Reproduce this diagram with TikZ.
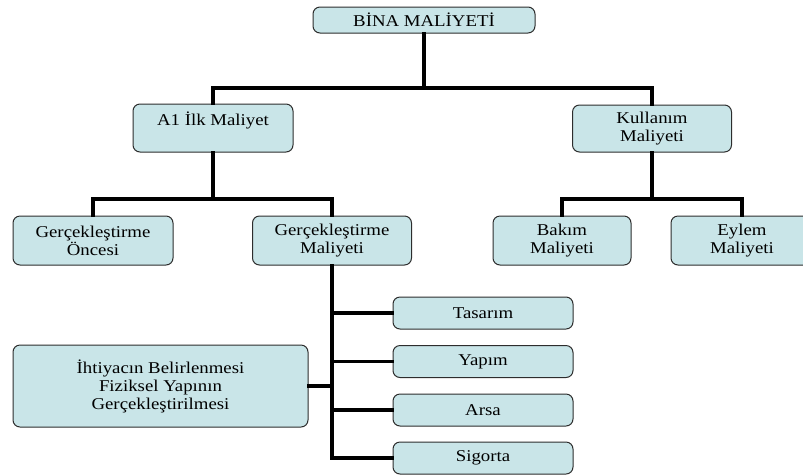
\documentclass[tikz,border=0pt]{standalone}
\usepackage{fontspec}
\setmainfont[FakeStretch=1.14]{Liberation Serif}
\definecolor{boxfill}{RGB}{201,229,232}
\definecolor{boxline}{RGB}{45,45,45}
\tikzset{
  box/.style={draw=boxline, fill=boxfill, rounded corners=7pt, line width=1pt,
    align=center, inner sep=0pt, font=\fontsize{16.5}{18}\selectfont},
  conn/.style={line width=3.5pt, black, line cap=rect, line join=miter}
}
\begin{document}
\begin{tikzpicture}[x=1pt,y=-1pt]
\useasboundingbox (0,0) rectangle (803,475);
% boxes
\node[box, minimum width=222pt, minimum height=26pt] (bina) at (424,20) {BİNA MALİYETİ};
\node[box, minimum width=160pt, minimum height=48pt] (a1) at (213,128) {A1 İlk Maliyet\\\phantom{M}};
\node[box, minimum width=159pt, minimum height=47pt] (kul) at (652,128.5) {Kullanım\\Maliyeti};
\node[box, minimum width=160pt, minimum height=49pt] (go) at (93,240.5) {Gerçekleştirme\\Öncesi};
\node[box, minimum width=159pt, minimum height=49pt] (gm) at (332,240.5) {Gerçekleştirme\\Maliyeti};
\node[box, minimum width=138pt, minimum height=49pt] (bak) at (562,240.5) {Bakım\\Maliyeti};
\node[box, minimum width=142pt, minimum height=49pt] (eyl) at (742,240.5) {Eylem\\Maliyeti};
\node[box, minimum width=180pt, minimum height=32pt] (tas) at (483,313) {Tasarım};
\node[box, minimum width=180pt, minimum height=32pt] (yap) at (483,361.5) {Yapım};
\node[box, minimum width=180pt, minimum height=32pt] (ars) at (483,410) {Arsa};
\node[box, minimum width=180pt, minimum height=32pt] (sig) at (483,458) {Sigorta};
\node[box, minimum width=295pt, minimum height=82pt] (iht) at (160.5,386) {İhtiyacın Belirlenmesi\\Fiziksel Yapının\\Gerçekleştirilmesi};
% junctions
\coordinate (j1) at (424,88);
\coordinate (j2) at (213,199);
\coordinate (j3) at (652,199);
% connectors
\draw[conn] (bina.south) -- (j1);
\draw[conn] (a1.north) |- (j1) -| (kul.north);
\draw[conn] (a1.south) -- (j2);
\draw[conn] (go.north) |- (j2) -| (gm.north);
\draw[conn] (kul.south) -- (j3);
\draw[conn] (bak.north) |- (j3) -| (eyl.north);
\draw[conn] (gm.south) |- (sig.west);
\draw[conn] (tas.west) -| (gm.south);
\draw[conn] (yap.west) -| (gm.south);
\draw[conn] (ars.west) -| (gm.south);
\draw[conn] (iht.east) -- (iht.east -| gm.south);
\end{tikzpicture}
\end{document}
